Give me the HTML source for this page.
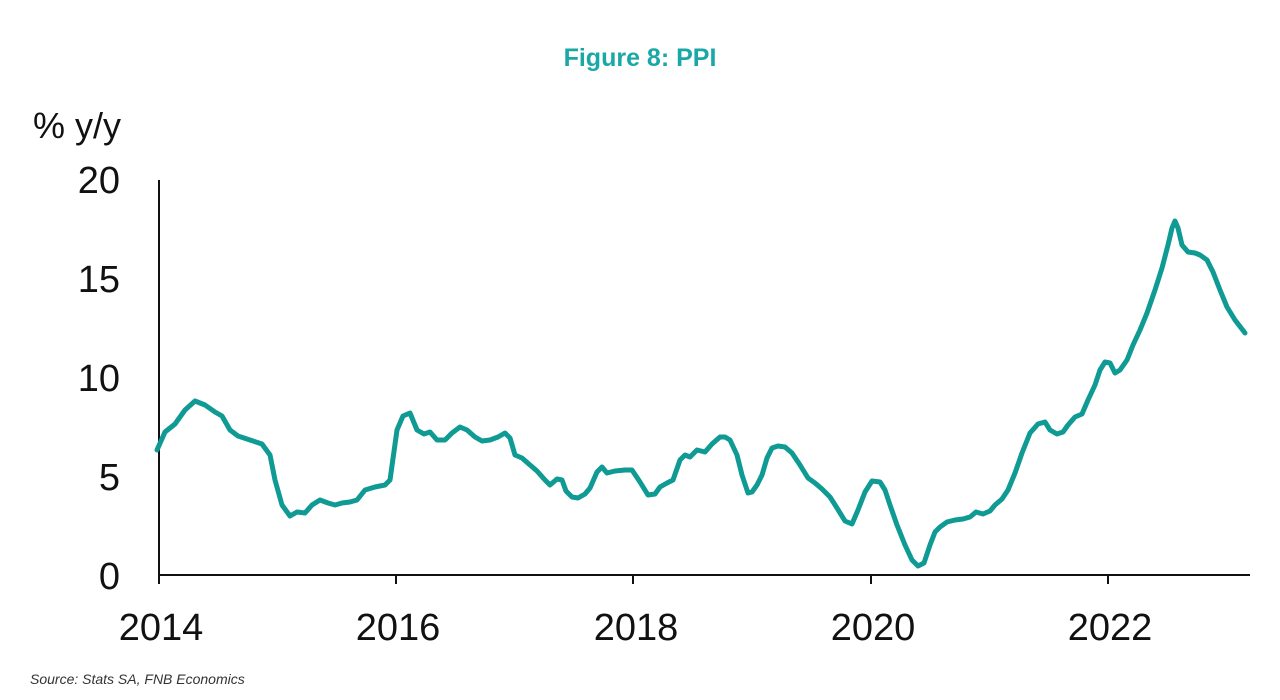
<!DOCTYPE html>
<html><head><meta charset="utf-8"><style>
html,body{margin:0;padding:0;background:#fff;width:1280px;height:700px;overflow:hidden}
svg text{font-family:"Liberation Sans",sans-serif}
</style></head><body>
<svg width="1280" height="700" xmlns="http://www.w3.org/2000/svg">
<text x="640" y="66" text-anchor="middle" font-size="25" font-weight="bold" fill="#1aa8a6">Figure 8: PPI</text>
<text x="33" y="138" font-size="36" fill="#111">% y/y</text>
<g font-size="38" fill="#111" text-anchor="end">
<text x="120" y="193">20</text><text x="120" y="292">15</text><text x="120" y="391">10</text><text x="120" y="490">5</text><text x="120" y="589">0</text>
</g>
<g font-size="38" fill="#111" text-anchor="middle">
<text x="161" y="640">2014</text><text x="398" y="640">2016</text><text x="636" y="640">2018</text><text x="873" y="640">2020</text><text x="1110" y="640">2022</text>
</g>
<line x1="159" y1="180" x2="159" y2="576" stroke="#111" stroke-width="2"/>
<line x1="158" y1="575" x2="1250" y2="575" stroke="#111" stroke-width="2"/>
<g stroke="#111" stroke-width="2"><line x1="396" y1="575" x2="396" y2="584"/><line x1="633" y1="575" x2="633" y2="584"/><line x1="871" y1="575" x2="871" y2="584"/><line x1="1108" y1="575" x2="1108" y2="584"/><line x1="159" y1="575" x2="159" y2="584"/></g>
<polyline fill="none" stroke="#0f9a94" stroke-width="5" stroke-linejoin="round" stroke-linecap="round" points="157,450 165,432 175,424 185,410 195,401 205,405 215,412 222,416 230,430 238,436 250,440 262,444 270,455 275,480 282,505 290,516 297,512 305,513 312,505 320,500 328,503 335,505 342,503 350,502 357,500 365,490 375,487 385,485 390,480 397,430 403,416 410,413 417,430 424,434 430,432 437,440 445,440 452,433 460,427 467,430 475,437 482,441 490,440 498,437 505,433 510,438 515,455 522,458 530,465 537,471 545,480 550,485 557,479 562,480 566,491 572,497 578,498 585,494 590,488 597,472 602,467 607,473 615,471 625,470 632,470 640,482 648,495 655,494 660,487 667,483 673,480 680,460 685,455 690,457 697,450 705,452 712,444 720,437 725,437 730,440 737,455 742,475 748,493 752,492 757,485 762,475 767,458 772,448 778,446 785,447 792,453 800,465 808,478 815,483 822,489 830,497 837,508 845,521 852,524 858,510 865,492 872,481 880,482 885,490 890,505 897,525 905,545 912,560 918,566 924,563 930,545 935,532 940,527 947,522 955,520 963,519 970,517 976,512 983,514 990,511 995,505 1002,499 1008,490 1015,473 1022,453 1030,433 1038,424 1045,422 1050,430 1057,434 1063,432 1068,425 1075,417 1082,414 1088,400 1095,385 1100,370 1105,362 1110,363 1115,373 1120,370 1127,360 1133,345 1140,330 1147,313 1155,290 1162,268 1168,245 1172,228 1175,221 1178,228 1182,245 1188,252 1195,253 1200,255 1207,260 1213,272 1220,290 1227,307 1235,320 1245,333"/>
<text x="30" y="684" font-size="14" font-style="italic" fill="#333">Source: Stats SA, FNB Economics</text>
</svg>
</body></html>
